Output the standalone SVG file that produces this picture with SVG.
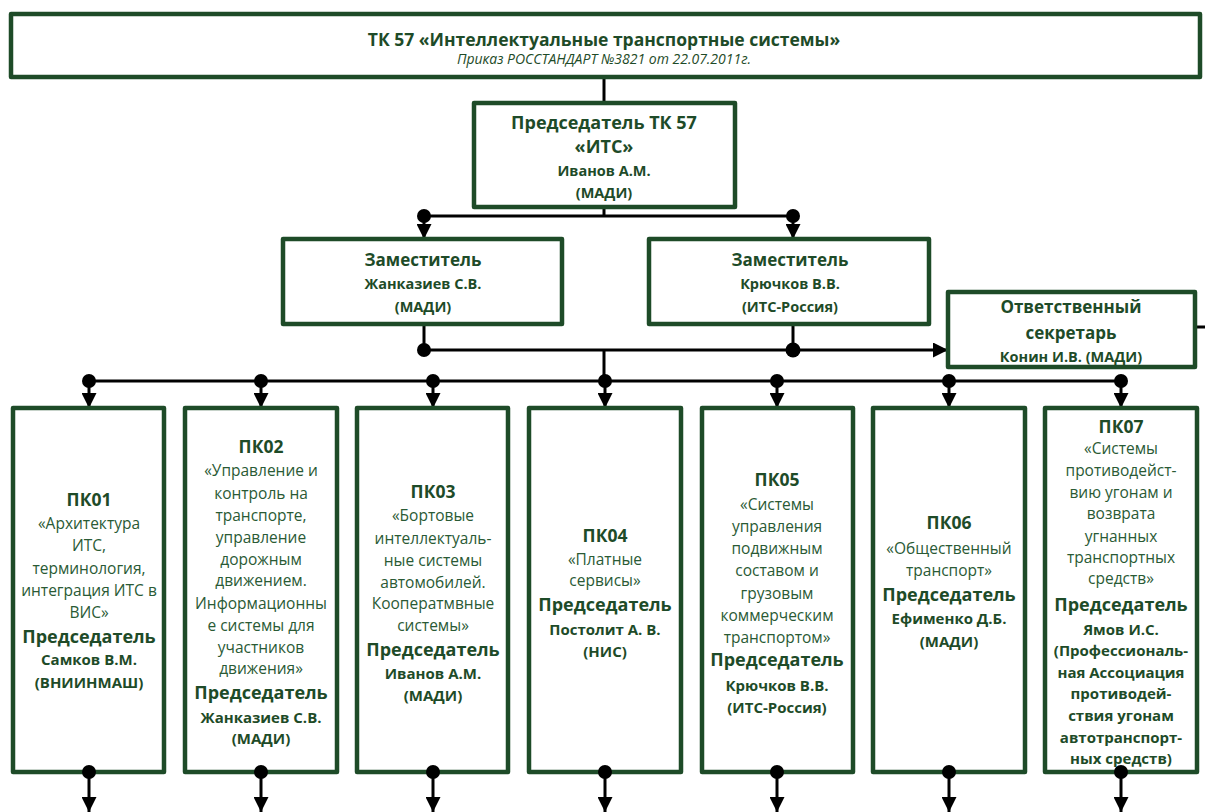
<svg xmlns="http://www.w3.org/2000/svg" width="1205" height="812" viewBox="0 0 1205 812">
  <style>
    .box { fill: #ffffff; stroke: #1e4b28; stroke-width: 4.5; stroke-linejoin: round; }
    text { font-family: "Open Sans", "Noto Sans", "Liberation Sans", sans-serif; fill: #1e4b28; text-anchor: middle; }
    .t1 { font-size: 17.5px; font-weight: bold; }
    .t2 { font-size: 14px; font-style: italic; }
    .hd { font-size: 17px; font-weight: bold; }
    .hc { font-size: 18px; font-weight: bold; }
    .nm { font-size: 14.5px; font-weight: bold; }
    .pk { font-size: 17.5px; font-weight: bold; }
    .ds { font-size: 15.5px; fill: #2a5a35; }
    .ch { font-size: 18px; font-weight: bold; }
    .cn { font-size: 15px; font-weight: bold; }
    .ln { stroke: #000000; stroke-width: 3; fill: none; }
    .dot { fill: #000000; }
  </style>
  <defs>
    <marker id="arr" viewBox="0 0 10 10" refX="10" refY="5" markerWidth="15" markerHeight="15" markerUnits="userSpaceOnUse" orient="auto">
      <path d="M0,0 L10,5 L0,10 z" fill="#000000"/>
    </marker>
  </defs>

  <!-- connectors -->
  <g id="connectors">
    <line class="ln" x1="604" y1="77" x2="604" y2="103"/>
    <line class="ln" x1="604" y1="207" x2="604" y2="216"/>
    <line class="ln" x1="424" y1="216" x2="793" y2="216"/>
    <line class="ln" x1="424" y1="216" x2="424" y2="239" marker-end="url(#arr)"/>
    <line class="ln" x1="793" y1="216" x2="793" y2="239" marker-end="url(#arr)"/>
    <circle class="dot" cx="424" cy="216" r="7"/>
    <circle class="dot" cx="793" cy="216" r="7"/>

    <line class="ln" x1="424" y1="324" x2="424" y2="350"/>
    <line class="ln" x1="793" y1="324" x2="793" y2="350"/>
    <line class="ln" x1="424" y1="350" x2="948" y2="350" marker-end="url(#arr)"/>
    <circle class="dot" cx="424" cy="350" r="7"/>
    <circle class="dot" cx="793" cy="350" r="7.5"/>
    <line class="ln" x1="604" y1="350" x2="604" y2="381"/>
    <line class="ln" x1="1195" y1="327" x2="1205" y2="327"/>

    <line class="ln" x1="89" y1="381" x2="1121" y2="381"/>
    <g id="bus-drops">
      <line class="ln" x1="89" y1="381" x2="89" y2="408" marker-end="url(#arr)"/>
      <line class="ln" x1="261" y1="381" x2="261" y2="408" marker-end="url(#arr)"/>
      <line class="ln" x1="433" y1="381" x2="433" y2="408" marker-end="url(#arr)"/>
      <line class="ln" x1="605" y1="381" x2="605" y2="408" marker-end="url(#arr)"/>
      <line class="ln" x1="777" y1="381" x2="777" y2="408" marker-end="url(#arr)"/>
      <line class="ln" x1="949" y1="381" x2="949" y2="408" marker-end="url(#arr)"/>
      <line class="ln" x1="1121" y1="381" x2="1121" y2="408" marker-end="url(#arr)"/>
      <circle class="dot" cx="89" cy="381" r="7"/>
      <circle class="dot" cx="261" cy="381" r="7"/>
      <circle class="dot" cx="433" cy="381" r="7"/>
      <circle class="dot" cx="605" cy="381" r="7"/>
      <circle class="dot" cx="777" cy="381" r="7"/>
      <circle class="dot" cx="949" cy="381" r="7"/>
      <circle class="dot" cx="1121" cy="381" r="7"/>
    </g>
  </g>

  <!-- top committee -->
  <g id="tk57">
    <rect class="box" x="11" y="14" width="1189" height="63"/>
    <text class="t1" x="604" y="46">ТК 57 «Интеллектуальные транспортные системы»</text>
    <text class="t2" x="604" y="64">Приказ РОССТАНДАРТ №3821 от 22.07.2011г.</text>
  </g>

  <g id="chairman">
    <rect class="box" x="474" y="103" width="261" height="104"/>
    <text class="hc" x="604" y="129">Председатель ТК 57</text>
    <text class="hc" x="604" y="153">«ИТС»</text>
    <text class="nm" x="604" y="176">Иванов А.М.</text>
    <text class="nm" x="604" y="198">(МАДИ)</text>
  </g>

  <g id="deputy-1">
    <rect class="box" x="283" y="239" width="279" height="85"/>
    <text class="hd" x="423" y="266">Заместитель</text>
    <text class="nm" x="423" y="289">Жанказиев С.В.</text>
    <text class="nm" x="423" y="312">(МАДИ)</text>
  </g>

  <g id="deputy-2">
    <rect class="box" x="649" y="239" width="280" height="85"/>
    <text class="hd" x="790" y="266">Заместитель</text>
    <text class="nm" x="790" y="289">Крючков В.В.</text>
    <text class="nm" x="790" y="312">(ИТС-Россия)</text>
  </g>

  <g id="secretary">
    <rect class="box" x="948" y="292" width="247" height="75"/>
    <text class="hd" x="1071" y="313">Ответственный</text>
    <text class="hd" x="1071" y="339">секретарь</text>
    <text class="nm" x="1071" y="362">Конин И.В. (МАДИ)</text>
  </g>

  <!-- subcommittees -->
  <g id="pk01">
    <rect class="box" x="13" y="408" width="151" height="364"/>
    <text class="pk" x="89" y="506">ПК01</text>
    <text class="ds" x="89" y="529">«Архитектура</text>
    <text class="ds" x="89" y="551">ИТС,</text>
    <text class="ds" x="89" y="574">терминология,</text>
    <text class="ds" x="89" y="596">интеграция ИТС в</text>
    <text class="ds" x="89" y="618">ВИС»</text>
    <text class="ch" x="89" y="643">Председатель</text>
    <text class="cn" x="89" y="665">Самков В.М.</text>
    <text class="cn" x="89" y="688">(ВНИИНМАШ)</text>
  </g>

  <g id="pk02">
    <rect class="box" x="185" y="408" width="152" height="364"/>
    <text class="pk" x="261" y="453">ПК02</text>
    <text class="ds" x="261" y="476">«Управление и</text>
    <text class="ds" x="261" y="499">контроль на</text>
    <text class="ds" x="261" y="521">транспорте,</text>
    <text class="ds" x="261" y="543">управление</text>
    <text class="ds" x="261" y="565">дорожным</text>
    <text class="ds" x="261" y="586">движением.</text>
    <text class="ds" x="261" y="609">Информационны</text>
    <text class="ds" x="261" y="631">е системы для</text>
    <text class="ds" x="261" y="653">участников</text>
    <text class="ds" x="261" y="674">движения»</text>
    <text class="ch" x="261" y="699">Председатель</text>
    <text class="cn" x="261" y="723">Жанказиев С.В.</text>
    <text class="cn" x="261" y="744">(МАДИ)</text>
  </g>

  <g id="pk03">
    <rect class="box" x="357" y="408" width="151" height="364"/>
    <text class="pk" x="433" y="498">ПК03</text>
    <text class="ds" x="433" y="521">«Бортовые</text>
    <text class="ds" x="433" y="544">интеллектуаль-</text>
    <text class="ds" x="433" y="566">ные системы</text>
    <text class="ds" x="433" y="588">автомобилей.</text>
    <text class="ds" x="433" y="609">Кооператмвные</text>
    <text class="ds" x="433" y="631">системы»</text>
    <text class="ch" x="433" y="656">Председатель</text>
    <text class="cn" x="433" y="679">Иванов А.М.</text>
    <text class="cn" x="433" y="701">(МАДИ)</text>
  </g>

  <g id="pk04">
    <rect class="box" x="529" y="408" width="152" height="364"/>
    <text class="pk" x="605" y="542">ПК04</text>
    <text class="ds" x="605" y="565">«Платные</text>
    <text class="ds" x="605" y="586">сервисы»</text>
    <text class="ch" x="605" y="611">Председатель</text>
    <text class="cn" x="605" y="635">Постолит А. В.</text>
    <text class="cn" x="605" y="657">(НИС)</text>
  </g>

  <g id="pk05">
    <rect class="box" x="702" y="408" width="151" height="364"/>
    <text class="pk" x="777" y="486">ПК05</text>
    <text class="ds" x="777" y="510">«Системы</text>
    <text class="ds" x="777" y="532">управления</text>
    <text class="ds" x="777" y="554">подвижным</text>
    <text class="ds" x="777" y="576">составом и</text>
    <text class="ds" x="777" y="599">грузовым</text>
    <text class="ds" x="777" y="621">коммерческим</text>
    <text class="ds" x="777" y="643">транспортом»</text>
    <text class="ch" x="777" y="666">Председатель</text>
    <text class="cn" x="777" y="691">Крючков В.В.</text>
    <text class="cn" x="777" y="713">(ИТС-Россия)</text>
  </g>

  <g id="pk06">
    <rect class="box" x="873" y="408" width="152" height="364"/>
    <text class="pk" x="949" y="529">ПК06</text>
    <text class="ds" x="949" y="554">«Общественный</text>
    <text class="ds" x="949" y="576">транспорт»</text>
    <text class="ch" x="949" y="601">Председатель</text>
    <text class="cn" x="949" y="624">Ефименко Д.Б.</text>
    <text class="cn" x="949" y="647">(МАДИ)</text>
  </g>

  <g id="pk07">
    <rect class="box" x="1045" y="408" width="152" height="364"/>
    <text class="pk" x="1121" y="433">ПК07</text>
    <text class="ds" x="1121" y="454">«Системы</text>
    <text class="ds" x="1121" y="476">противодейст-</text>
    <text class="ds" x="1121" y="498">вию угонам и</text>
    <text class="ds" x="1121" y="519">возврата</text>
    <text class="ds" x="1121" y="542">угнанных</text>
    <text class="ds" x="1121" y="563">транспортных</text>
    <text class="ds" x="1121" y="584">средств»</text>
    <text class="ch" x="1121" y="611">Председатель</text>
    <text class="cn" x="1121" y="635">Ямов И.С.</text>
    <text class="cn" x="1121" y="656">(Профессиональ-</text>
    <text class="cn" x="1121" y="678">ная Ассоциация</text>
    <text class="cn" x="1121" y="699">противодей-</text>
    <text class="cn" x="1121" y="721">ствия угонам</text>
    <text class="cn" x="1121" y="743">автотранспорт-</text>
    <text class="cn" x="1121" y="764">ных средств)</text>
  </g>

  <!-- outgoing links below the subcommittees -->
  <g id="connectors-bottom">
    <line class="ln" x1="89" y1="772" x2="89" y2="812" marker-end="url(#arr)"/>
    <line class="ln" x1="261" y1="772" x2="261" y2="812" marker-end="url(#arr)"/>
    <line class="ln" x1="433" y1="772" x2="433" y2="812" marker-end="url(#arr)"/>
    <line class="ln" x1="605" y1="772" x2="605" y2="812" marker-end="url(#arr)"/>
    <line class="ln" x1="777" y1="772" x2="777" y2="812" marker-end="url(#arr)"/>
    <line class="ln" x1="949" y1="772" x2="949" y2="812" marker-end="url(#arr)"/>
    <line class="ln" x1="1121" y1="772" x2="1121" y2="812" marker-end="url(#arr)"/>
    <circle class="dot" cx="89" cy="772" r="7"/>
    <circle class="dot" cx="261" cy="772" r="7"/>
    <circle class="dot" cx="433" cy="772" r="7"/>
    <circle class="dot" cx="605" cy="772" r="7"/>
    <circle class="dot" cx="777" cy="772" r="7"/>
    <circle class="dot" cx="949" cy="772" r="7"/>
    <circle class="dot" cx="1121" cy="772" r="7"/>
  </g>
</svg>
